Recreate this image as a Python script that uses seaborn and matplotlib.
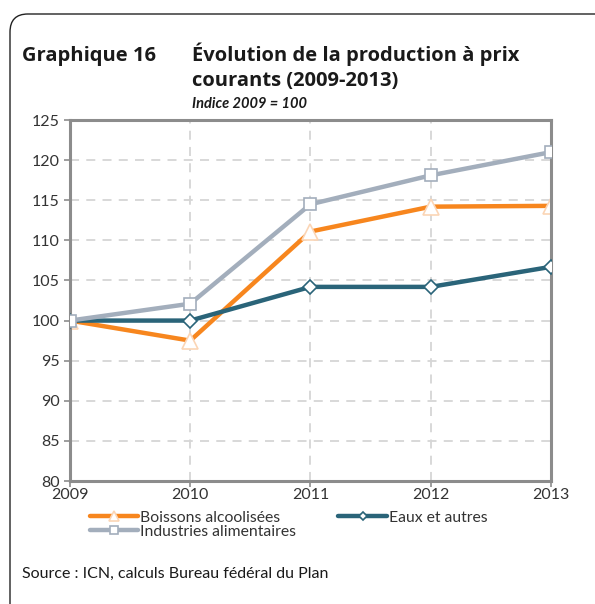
"""Graphique 16 - production a prix courants (2009-2013), indice 2009 = 100."""

import matplotlib.pyplot as plt
import pandas as pd
import seaborn as sns
from matplotlib.patches import FancyBboxPatch

years = [2009, 2010, 2011, 2012, 2013]
boissons = [100.0, 97.5, 111.1, 114.2, 114.3]
eaux = [100.0, 100.0, 104.2, 104.2, 106.7]
industries = [100.0, 102.1, 114.5, 118.1, 121.0]

series = [
    ("Boissons alcoolisées", boissons, "#F7861E", "^", "#FBD5B5", 11),
    ("Industries alimentaires", industries, "#A3AEBC", "s", "#A3AEBC", 9),
    ("Eaux et autres", eaux, "#2A6479", "D", "#2A6479", 7.5),
]

sns.set_style("white")
plt.rcParams["font.family"] = ["Lato", "DejaVu Sans"]
title_font = ["Open Sans", "Lato", "DejaVu Sans"]

fig = plt.figure(figsize=(5.95, 6.04), dpi=100)
ax = fig.add_axes([0.1176, 0.2036, 0.8084, 0.5977])

for name, vals, col, mk, edge, ms in series:
    df = pd.DataFrame({"year": years, "value": vals})
    sns.lineplot(
        data=df, x="year", y="value", ax=ax, color=col, linewidth=3.2,
        marker=mk, markersize=ms, markerfacecolor="white",
        markeredgecolor=edge, markeredgewidth=1.2, label=name,
    )

# Industries drawn above the others, like the original
ax.lines[1].set_zorder(4)
ax.lines[2].set_zorder(3)
ax.lines[0].set_zorder(2)

ax.set_xlim(2009, 2013)
ax.set_ylim(80, 125)
ax.set_xticks(years)
ax.set_yticks(range(80, 126, 5))
ax.set_xlabel("")
ax.set_ylabel("")
ax.grid(True, color="#D6D6D6", linestyle=(0, (5, 4)), linewidth=1.3)
for sp in ax.spines.values():
    sp.set_color("#8C8C8C")
    sp.set_linewidth(2.2)
ax.tick_params(colors="#8C8C8C", labelcolor="#333333", labelsize=11.5,
               length=4, width=1.2, left=True, bottom=True)
ax.tick_params(axis="x", pad=1)

handles, labels = ax.get_legend_handles_labels()
ax.get_legend().remove()
fig.legend(handles, labels, ncol=2, loc="upper left",
           bbox_to_anchor=(0.14, 0.165), frameon=False, fontsize=11.3,
           handlelength=3.1, handletextpad=0.12, columnspacing=2.7,
           labelspacing=0.0, borderaxespad=0, labelcolor="#333333",
           markerscale=0.6)

fig.text(0.037, 0.899, "Graphique 16", fontsize=14.5, fontweight="bold",
         color="#1A1A1A", family=title_font)
fig.text(0.323, 0.899, "Évolution de la production à prix", fontsize=14.5,
         fontweight="bold", color="#1A1A1A", family=title_font)
fig.text(0.323, 0.858, "courants (2009-2013)", fontsize=14.5,
         fontweight="bold", color="#1A1A1A", family=title_font)
fig.text(0.323, 0.822, "Indice 2009 = 100", fontsize=10.5, fontweight="bold",
         fontstyle="italic", color="#1A1A1A")
fig.text(0.037, 0.043, "Source : ICN, calculs Bureau fédéral du Plan",
         fontsize=11.5, color="#1A1A1A")

frame = FancyBboxPatch((10 / 595, -0.1), 1.2, 1.1 - 14 / 604,
                       boxstyle="round,pad=0,rounding_size=0.03",
                       transform=fig.transFigure, facecolor="none",
                       edgecolor="#222222", linewidth=1.0, zorder=-1)
fig.patches.append(frame)

fig.savefig("out.png", dpi=100)
